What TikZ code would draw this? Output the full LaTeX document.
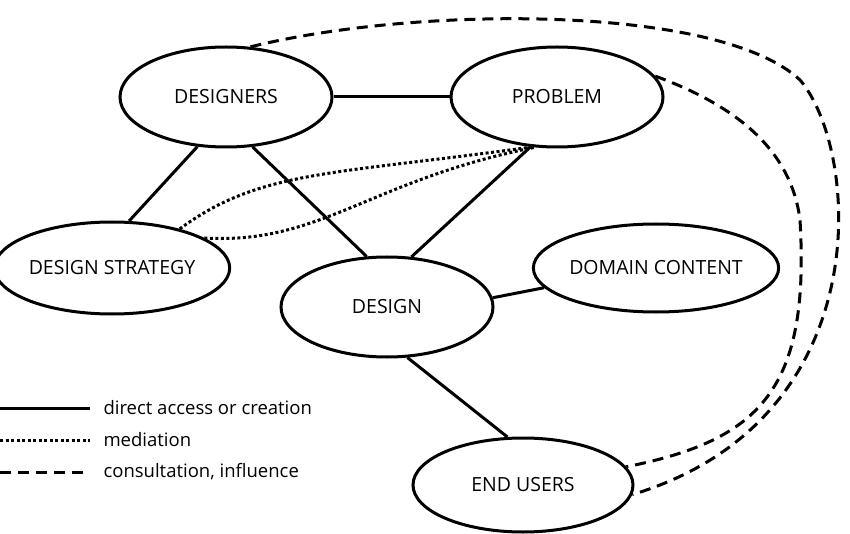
\documentclass[tikz,border=0pt]{standalone}
\usepackage{fontspec}
\setmainfont{Open Sans}
\usetikzlibrary{shapes.geometric}
\begin{document}
\begin{tikzpicture}[x=1pt,y=-1pt,
  ent/.style={draw,ellipse,line width=3pt,inner sep=0pt,minimum width=212pt,minimum height=100pt,font=\fontsize{19.5}{22}\selectfont},
  lnk/.style={line width=3pt},
  dot/.style={line width=3pt,dash pattern=on 3pt off 2.5pt},
  dsh/.style={line width=3pt,dash pattern=on 11pt off 7pt},
  leg/.style={font=\fontsize{18.5}{21}\selectfont,anchor=west}]
\useasboundingbox (0,0) rectangle (850,534);
\node[ent] (des) at (226,97) {DESIGNERS};
\node[ent] (prob) at (557,97) {PROBLEM};
\node[ent,minimum width=216pt,minimum height=92pt] (str) at (112,268) {DESIGN STRATEGY};
\node[ent] (dsn) at (387,307) {DESIGN};
\node[ent,minimum width=206pt,minimum height=88pt] (dom) at (656,268) {DOMAIN CONTENT};
\node[ent,minimum width=220pt,minimum height=94pt] (eu) at (523,485) {END USERS};
\draw[lnk] (des.east) -- (prob.west);
\draw[lnk] (des.-120) -- (str.70);
\draw[lnk] (des.-62) -- (dsn.112);
\draw[lnk] (prob.-118) -- (dsn.64);
\draw[lnk] (dsn.5) -- (dom.190);
\draw[lnk] (dsn.-68) -- (eu.108);
\draw[dot] (str.30) .. controls (260,170) and (330,175) .. (prob.-117);
\draw[dot] (str.18) .. controls (320,245) and (370,180) .. (prob.-114);
\draw[dsh] (des.64) .. controls (420,5) and (720,5) .. (800,80) .. controls (860,150) and (880,420) .. (eu.-5);
\draw[dsh] (prob.12) .. controls (720,100) and (790,140) .. (800,220) .. controls (810,390) and (760,440) .. (eu.10);
\coordinate (a1) at (0,408); \coordinate (b1) at (90,408);
\coordinate (a2) at (0,440); \coordinate (b2) at (90,440);
\coordinate (a3) at (0,472); \coordinate (b3) at (90,472);
\draw[lnk] (a1) -- (b1); \draw[dot] (a2) -- (b2); \draw[dsh] (a3) -- (b3);
\node[leg] (t1) at (100,408) {direct access or creation};
\node[leg] (t2) at (100,440) {mediation};
\node[leg] (t3) at (100,472) {consultation, influence};
\end{tikzpicture}
\end{document}
